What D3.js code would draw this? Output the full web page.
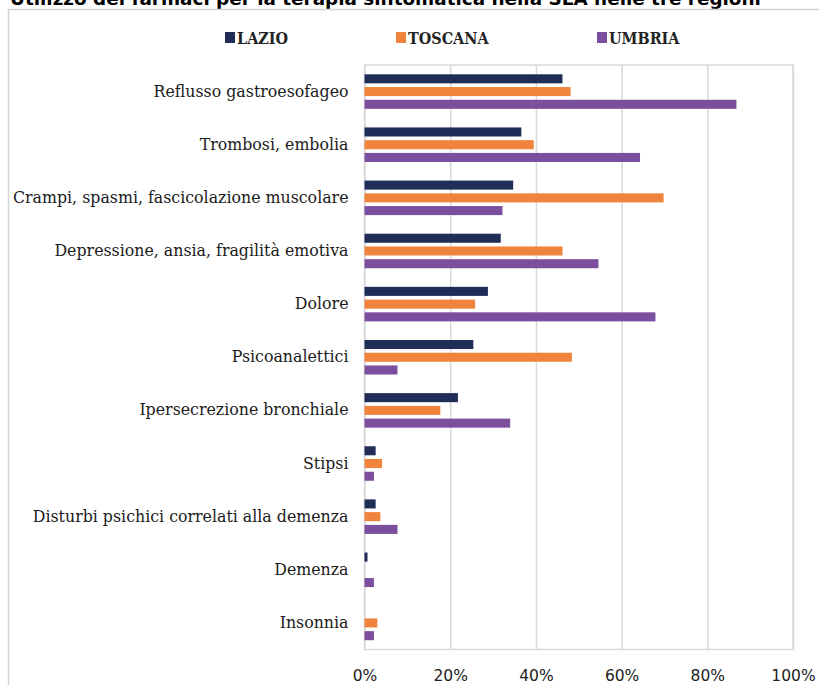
<html>
<head>
    <meta charset="utf-8">
    <title>Farmaci SLA</title>
    <script src="https://d3js.org/d3.v7.min.js" charset="utf-8"></script>
    <style type="text/css">
        body { margin: 0; background: #fff; }
    </style>
</head>
<body>
<div id="chart"></div>
<script>
    // categories, top to bottom
    var categories = ['Reflusso gastroesofageo', 'Trombosi, embolia',
        'Crampi, spasmi, fascicolazione muscolare', 'Depressione, ansia, fragilità emotiva',
        'Dolore', 'Psicoanalettici', 'Ipersecrezione bronchiale', 'Stipsi',
        'Disturbi psichici correlati alla demenza', 'Demenza', 'Insonnia'];
    var regions = ['LAZIO', 'TOSCANA', 'UMBRIA'];
    var lazio   = [46.2, 36.6, 34.7, 31.8, 28.8, 25.4, 21.8, 2.6, 2.6, 0.7, 0];
    var toscana = [48.1, 39.5, 69.8, 46.2, 25.8, 48.4, 17.7, 4.1, 3.7, 0, 3.0];
    var umbria  = [86.8, 64.3, 32.2, 54.6, 67.9, 7.7, 34.0, 2.2, 7.7, 2.2, 2.2];
    var xTicks = [0, 20, 40, 60, 80, 100];
    var colors = ['#1f2d57', '#f0843c', '#7b4f9e'];

    var series = [lazio, toscana, umbria];

    var W = 819, H = 685;
    var margin = {top: 65, left: 364.5, right: 26, bottom: 35.5};
    var width = W - margin.left - margin.right;
    var height = H - margin.top - margin.bottom;

    var svg = d3.select('#chart').append('svg')
        .attr('width', W)
        .attr('height', H);

    // title, cut off at the top like the source image
    svg.append('text')
        .attr('x', 10).attr('y', 5)
        .style('font-family', 'DejaVu Sans, Verdana, sans-serif')
        .style('font-weight', 'bold')
        .style('font-size', '18.4px')
        .attr('fill', '#000')
        .text('Utilizzo dei farmaci per la terapia sintomatica nella SLA nelle tre regioni');

    // outer frame
    svg.append('rect')
        .attr('x', 8.5).attr('y', 9.5)
        .attr('width', 830).attr('height', 700)
        .attr('fill', 'none')
        .attr('stroke', '#d4d4d4')
        .attr('stroke-width', 1.5);

    var xScale = d3.scaleLinear().domain([0, 100]).range([0, width]);
    var yScale = d3.scaleBand().domain(categories).range([0, height])
        .paddingInner(0.35).paddingOuter(0.175);
    var inner = d3.scaleBand().domain(regions).range([0, yScale.bandwidth()])
        .paddingInner(0.29);

    var g = svg.append('g')
        .attr('transform', 'translate(' + margin.left + ',' + margin.top + ')');

    // gridlines + plot border
    var xAxis = d3.axisBottom(xScale)
        .tickValues(xTicks)
        .tickSize(-height)
        .tickPadding(20)
        .tickFormat(function(d){ return d + '%'; });

    var xGuide = g.append('g')
        .attr('transform', 'translate(0,' + height + ')')
        .call(xAxis);
    xGuide.select('.domain').remove();
    xGuide.selectAll('line')
        .attr('stroke', '#d9d9d9')
        .attr('stroke-width', 1.5);
    xGuide.selectAll('text')
        .style('font-family', 'DejaVu Sans, Verdana, sans-serif')
        .style('font-size', '15.5px')
        .attr('fill', '#222');

    g.append('rect')
        .attr('x', 0).attr('y', 0)
        .attr('width', width).attr('height', height)
        .attr('fill', 'none')
        .attr('stroke', '#d9d9d9')
        .attr('stroke-width', 1.5);

    // bars
    regions.forEach(function(r, si){
        g.append('g').selectAll('rect')
            .data(series[si])
            .enter().append('rect')
                .attr('x', 0)
                .attr('y', function(d, i){ return yScale(categories[i]) + inner(r); })
                .attr('height', inner.bandwidth())
                .attr('width', function(d){ return xScale(d); })
                .attr('fill', colors[si]);
    });

    // category labels
    var yAxis = d3.axisLeft(yScale).tickSize(0).tickPadding(16);
    var yGuide = g.append('g').call(yAxis);
    yGuide.select('.domain').remove();
    yGuide.selectAll('text')
        .style('font-family', 'DejaVu Serif, Georgia, serif')
        .style('font-size', '15.8px')
        .attr('fill', '#1a1a1a');

    // legend
    var legendX = [225, 396, 597];
    var legend = svg.append('g').selectAll('g')
        .data(regions)
        .enter().append('g')
            .attr('transform', function(d, i){ return 'translate(' + legendX[i] + ',32)'; });
    legend.append('rect')
        .attr('width', 10).attr('height', 11)
        .attr('fill', function(d, i){ return colors[i]; });
    legend.append('text')
        .attr('x', 12).attr('y', 11.5)
        .style('font-family', 'DejaVu Serif Condensed, DejaVu Serif, serif')
        .style('font-weight', 'bold')
        .style('font-size', '16px')
        .attr('fill', '#222')
        .text(function(d){ return d; });
</script>
</body>
</html>
